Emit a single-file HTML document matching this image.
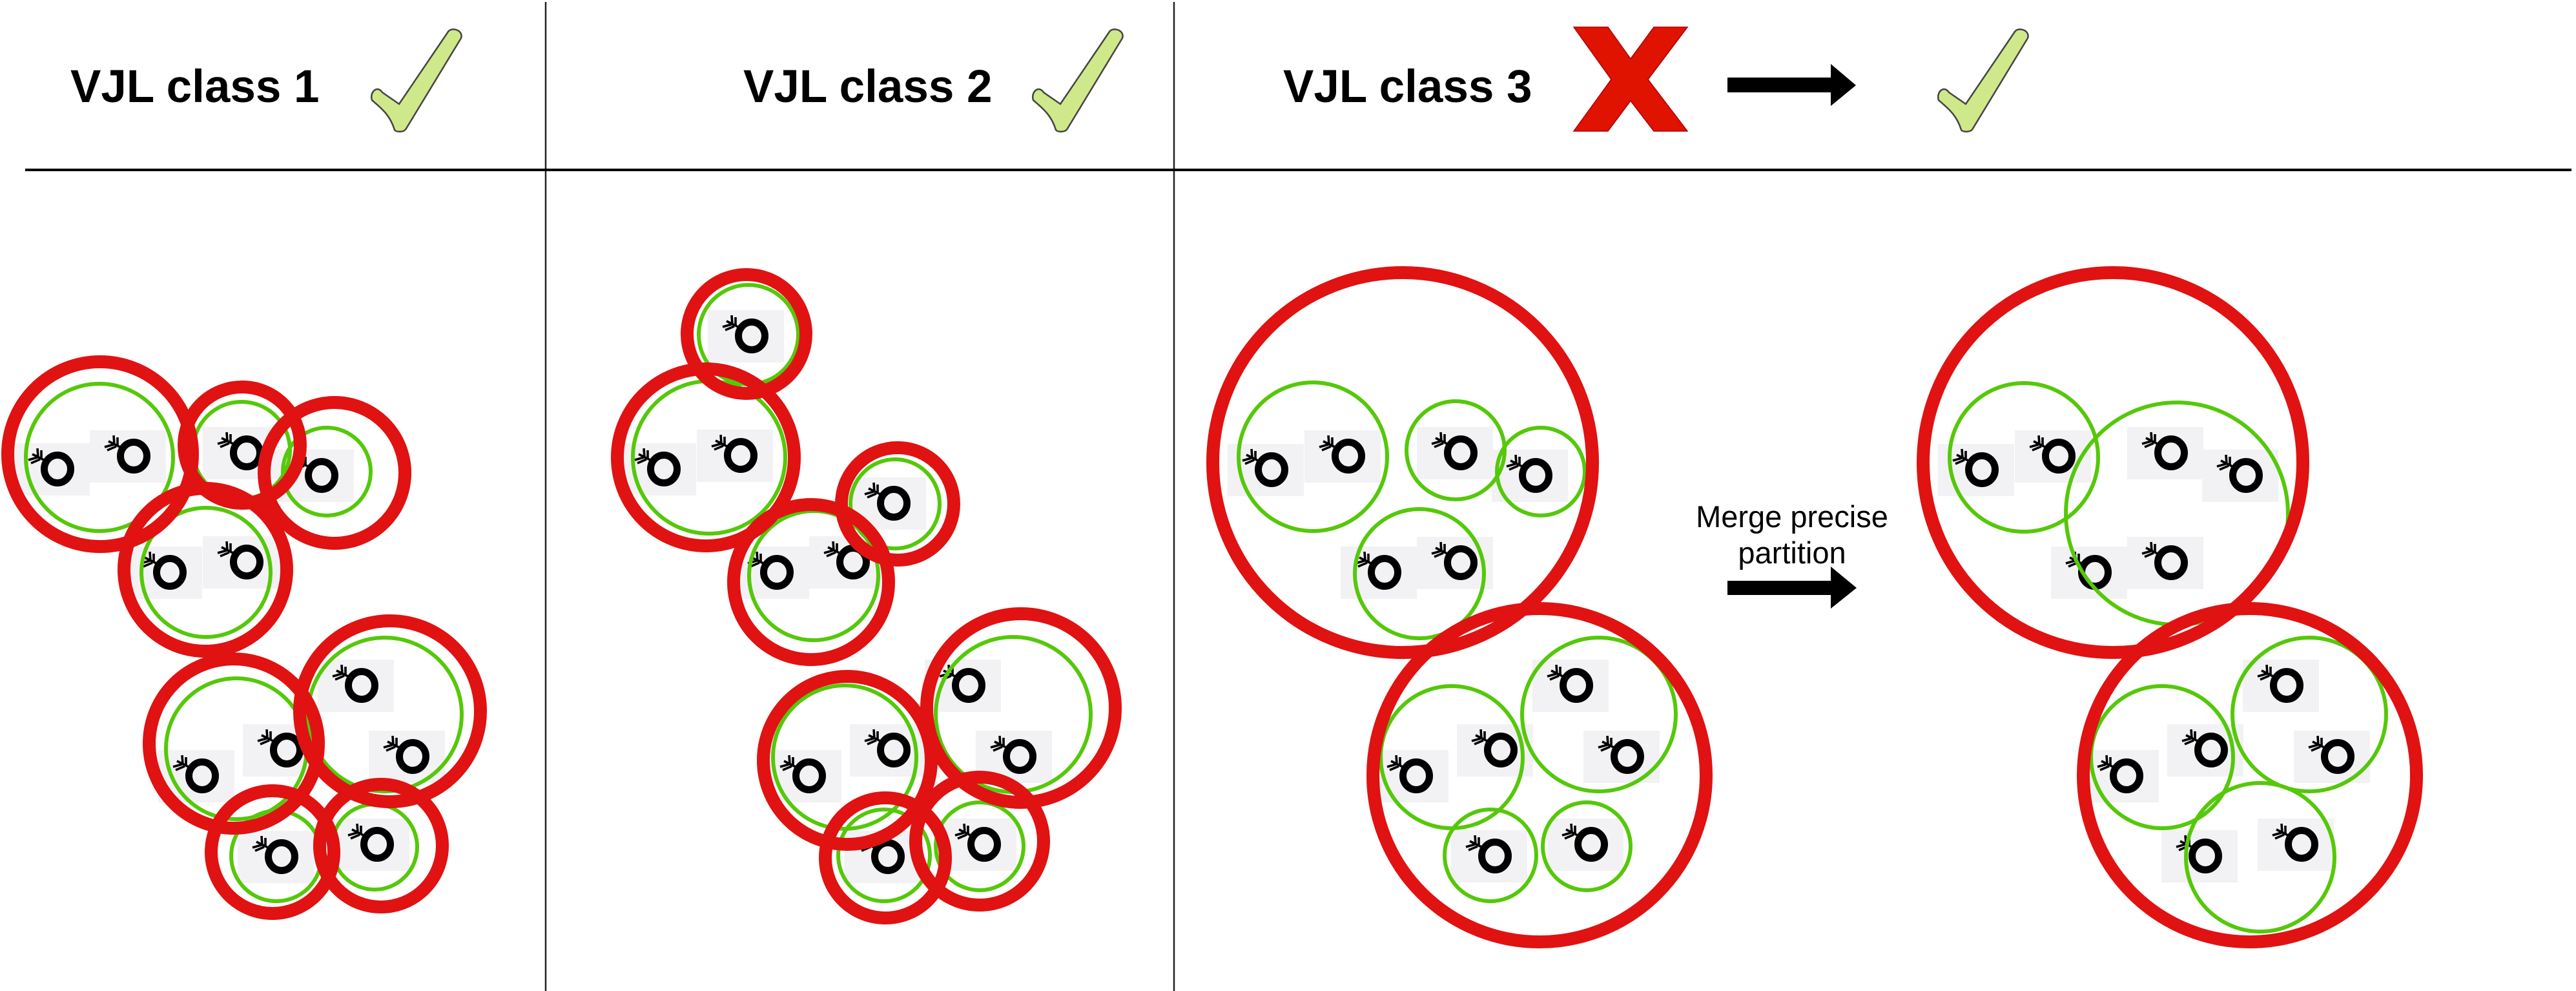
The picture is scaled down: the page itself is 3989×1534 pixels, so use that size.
<!DOCTYPE html>
<html><head><meta charset="utf-8"><style>
html,body{margin:0;padding:0;background:#fff;}
svg{display:block;}
</style></head><body>
<svg width="3989" height="1534" viewBox="0 0 3989 1534" xmlns="http://www.w3.org/2000/svg" font-family="'Liberation Sans', Arial, sans-serif">
<defs>
<g id="rc"><rect x="-68" y="-40" width="118" height="81" fill="#f2f2f4"/></g>
<g id="rg">
<ellipse rx="20.5" ry="21.5" fill="none" stroke="#000" stroke-width="11"/>
<path d="M-17,-12 L-39,-23 M-30,-18 L-31,-32 M-25,-15 L-25,-29 M-31,-18 L-45,-14 M-27,-15 L-41,-9" stroke="#000" stroke-width="3.6" fill="none"/>
</g>
<g id="chk"><path d="M35,158 C28,135 15,125 0,112 C-4,100 8,88 16,100 L42,118 L118,6 C124,-2 142,4 138,16 L53,156 C50,162 38,162 35,158 Z" fill="#cfe98a" stroke="#444" stroke-width="2.5"/></g>
</defs>

<line x1="845" y1="3" x2="845" y2="1534" stroke="#222" stroke-width="2.5"/>
<line x1="1818" y1="3" x2="1818" y2="1534" stroke="#222" stroke-width="2.5"/>
<line x1="39" y1="263" x2="3982" y2="263" stroke="#000" stroke-width="4"/>

<g font-size="71" font-weight="bold" fill="#000">
<text x="109" y="158">VJL class 1</text>
<text x="1151" y="158">VJL class 2</text>
<text x="1987" y="158">VJL class 3</text>
</g>
<use href="#chk" x="576" y="43"/>
<use href="#chk" x="1600" y="43"/>
<use href="#chk" x="3002" y="43"/>
<polygon points="2437,42 2490,42 2525,91 2561,42 2613,42 2552,123 2613,203 2561,203 2525,156 2490,203 2437,203 2495,123" fill="#e01200" stroke="#b00000" stroke-width="1.5"/>
<polygon points="2675,120 2835,120 2835,99 2874,132 2835,164 2835,143 2675,143" fill="#000"/>

<g font-size="47" fill="#000" text-anchor="middle">
<text x="2775" y="816">Merge precise</text>
<text x="2775" y="872">partition</text>
</g>
<polygon points="2675,899 2835,899 2835,877 2875,910 2835,942 2835,921 2675,921" fill="#000"/>

<g>
<use href="#rc" x="89" y="726"/><use href="#rc" x="207" y="706"/><use href="#rc" x="382" y="701"/><use href="#rc" x="498" y="736"/>
<use href="#rc" x="263" y="886"/><use href="#rc" x="382" y="870"/><use href="#rc" x="313" y="1201"/><use href="#rc" x="444" y="1161"/>
<use href="#rc" x="560" y="1061"/><use href="#rc" x="639" y="1171"/><use href="#rc" x="436" y="1326"/><use href="#rc" x="584" y="1307"/>
<use href="#rc" x="1028" y="726"/><use href="#rc" x="1147" y="705"/><use href="#rc" x="1164" y="520"/><use href="#rc" x="1384" y="779"/>
<use href="#rc" x="1203" y="886"/><use href="#rc" x="1321" y="870"/><use href="#rc" x="1253" y="1201"/><use href="#rc" x="1384" y="1161"/>
<use href="#rc" x="1500" y="1061"/><use href="#rc" x="1579" y="1171"/><use href="#rc" x="1375" y="1326"/><use href="#rc" x="1524" y="1307"/>
<use href="#rc" x="1969" y="727"/><use href="#rc" x="2088" y="706"/><use href="#rc" x="2262" y="701"/><use href="#rc" x="2378" y="736"/>
<use href="#rc" x="2144" y="886"/><use href="#rc" x="2262" y="871"/><use href="#rc" x="2193" y="1201"/><use href="#rc" x="2324" y="1161"/>
<use href="#rc" x="2441" y="1061"/><use href="#rc" x="2520" y="1171"/><use href="#rc" x="2315" y="1325"/><use href="#rc" x="2464" y="1307"/>
<use href="#rc" x="3069" y="727"/><use href="#rc" x="3188" y="706"/><use href="#rc" x="3362" y="701"/><use href="#rc" x="3478" y="736"/>
<use href="#rc" x="3244" y="886"/><use href="#rc" x="3362" y="871"/><use href="#rc" x="3293" y="1201"/><use href="#rc" x="3424" y="1161"/>
<use href="#rc" x="3541" y="1061"/><use href="#rc" x="3620" y="1171"/><use href="#rc" x="3415" y="1325"/><use href="#rc" x="3564" y="1307"/>
</g>

<g>
<use href="#rg" x="89" y="726"/><use href="#rg" x="207" y="706"/><use href="#rg" x="382" y="701"/><use href="#rg" x="498" y="736"/>
<use href="#rg" x="263" y="886"/><use href="#rg" x="382" y="870"/><use href="#rg" x="313" y="1201"/><use href="#rg" x="444" y="1161"/>
<use href="#rg" x="560" y="1061"/><use href="#rg" x="639" y="1171"/><use href="#rg" x="436" y="1326"/><use href="#rg" x="584" y="1307"/>
<use href="#rg" x="1028" y="726"/><use href="#rg" x="1147" y="705"/><use href="#rg" x="1164" y="520"/><use href="#rg" x="1384" y="779"/>
<use href="#rg" x="1203" y="886"/><use href="#rg" x="1321" y="870"/><use href="#rg" x="1253" y="1201"/><use href="#rg" x="1384" y="1161"/>
<use href="#rg" x="1500" y="1061"/><use href="#rg" x="1579" y="1171"/><use href="#rg" x="1375" y="1326"/><use href="#rg" x="1524" y="1307"/>
<use href="#rg" x="1969" y="727"/><use href="#rg" x="2088" y="706"/><use href="#rg" x="2262" y="701"/><use href="#rg" x="2378" y="736"/>
<use href="#rg" x="2144" y="886"/><use href="#rg" x="2262" y="871"/><use href="#rg" x="2193" y="1201"/><use href="#rg" x="2324" y="1161"/>
<use href="#rg" x="2441" y="1061"/><use href="#rg" x="2520" y="1171"/><use href="#rg" x="2315" y="1325"/><use href="#rg" x="2464" y="1307"/>
<use href="#rg" x="3069" y="727"/><use href="#rg" x="3188" y="706"/><use href="#rg" x="3362" y="701"/><use href="#rg" x="3478" y="736"/>
<use href="#rg" x="3244" y="886"/><use href="#rg" x="3362" y="871"/><use href="#rg" x="3293" y="1201"/><use href="#rg" x="3424" y="1161"/>
<use href="#rg" x="3541" y="1061"/><use href="#rg" x="3620" y="1171"/><use href="#rg" x="3415" y="1325"/><use href="#rg" x="3564" y="1307"/>
</g>

<g fill="none" stroke="#55c80a" stroke-width="6">
<circle cx="154" cy="708" r="114"/><circle cx="374" cy="697" r="75"/><circle cx="506" cy="730" r="68"/><circle cx="319" cy="886" r="100"/>
<circle cx="366" cy="1159" r="109"/><circle cx="596" cy="1106" r="119"/><circle cx="428" cy="1325" r="70"/><circle cx="580" cy="1311" r="66"/>
<circle cx="1159" cy="518" r="77"/><circle cx="1098" cy="708" r="118"/><circle cx="1386" cy="780" r="69"/><circle cx="1260" cy="891" r="100"/>
<circle cx="1308" cy="1172" r="111"/><circle cx="1569" cy="1106" r="120"/><circle cx="1369" cy="1324" r="71"/><circle cx="1517" cy="1310" r="68"/>
<circle cx="2033" cy="707" r="115"/><circle cx="2254" cy="697" r="76"/><circle cx="2386" cy="730" r="68"/><circle cx="2198" cy="888" r="100"/>
<circle cx="2248" cy="1172" r="110"/><circle cx="2476" cy="1106" r="119"/><circle cx="2308" cy="1324" r="71"/><circle cx="2457" cy="1310" r="68"/>
<circle cx="3134" cy="708" r="115"/><circle cx="3371" cy="795" r="172"/>
<circle cx="3348" cy="1172" r="110"/><circle cx="3576" cy="1106" r="119"/><circle cx="3500" cy="1327" r="115"/>
</g>

<g fill="none" stroke="#e01212" stroke-width="20">
<circle cx="155" cy="703" r="143"/><circle cx="375" cy="689" r="90"/><circle cx="518" cy="732" r="109"/><circle cx="318" cy="882" r="126"/>
<circle cx="362" cy="1151" r="131"/><circle cx="604" cy="1101" r="140"/><circle cx="422" cy="1319" r="95"/><circle cx="590" cy="1309" r="95"/>
<circle cx="1156" cy="517" r="92"/><circle cx="1093" cy="708" r="137"/><circle cx="1390" cy="780" r="87"/><circle cx="1256" cy="901" r="120"/>
<circle cx="1312" cy="1177" r="130"/><circle cx="1581" cy="1096" r="146"/><circle cx="1371" cy="1328" r="93"/><circle cx="1517" cy="1302" r="99"/>
<circle cx="2172" cy="716" r="294"/><circle cx="2384" cy="1200" r="258"/>
<circle cx="3272" cy="716" r="294"/><circle cx="3484" cy="1200" r="258"/>
</g>
</svg>
</body></html>
